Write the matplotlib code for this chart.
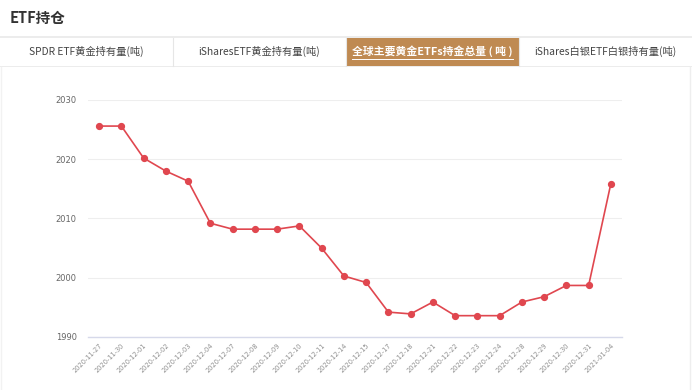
import matplotlib
matplotlib.use("Agg")
import matplotlib.pyplot as plt
from matplotlib.patches import Rectangle
from matplotlib.lines import Line2D

plt.rcParams['font.family'] = ['Noto Sans CJK SC', 'DejaVu Sans']

title = "ETF持仓"
tabs = ["SPDR ETF黄金持有量(吨)", "iSharesETF黄金持有量(吨)", "全球主要黄金ETFs持金总量 ( 吨 )", "iShares白银ETF白银持有量(吨)"]
active_tab = 2

dates = ["2020-11-27", "2020-11-30", "2020-12-01", "2020-12-02", "2020-12-03", "2020-12-04",
         "2020-12-07", "2020-12-08", "2020-12-09", "2020-12-10", "2020-12-11", "2020-12-14",
         "2020-12-15", "2020-12-17", "2020-12-18", "2020-12-21", "2020-12-22", "2020-12-23",
         "2020-12-24", "2020-12-28", "2020-12-29", "2020-12-30", "2020-12-31", "2021-01-04"]
holdings = [2025.6, 2025.6, 2020.2, 2018.0, 2016.3, 2009.2,
            2008.2, 2008.2, 2008.2, 2008.75, 2005.0, 2000.3,
            1999.2, 1994.2, 1993.9, 1995.9, 1993.6, 1993.6,
            1993.6, 1995.9, 1996.8, 1998.7, 1998.7, 2015.9]
yticks = [1990, 2000, 2010, 2020, 2030]

W, H = 692, 390
fig = plt.figure(figsize=(W / 100, H / 100), dpi=100)
fig.patch.set_facecolor("white")

# overlay in pixel coords for the header
ov = fig.add_axes([0, 0, 1, 1], zorder=0)
ov.set_xlim(0, W)
ov.set_ylim(H, 0)
ov.axis("off")

ov.text(10, 18, title, fontsize=10.5, fontweight="bold", color="#333333", va="center", ha="left")

# tab bar
ov.add_patch(Rectangle((0, 35.5), W, 2.5, color="#ececec", lw=0))
ov.add_patch(Rectangle((0, 65.5), W, 1.5, color="#ececec", lw=0))
tab_w = W / 4
for i, t in enumerate(tabs):
    x0 = i * tab_w
    cx = x0 + tab_w / 2
    if i == active_tab:
        ov.add_patch(Rectangle((x0, 38), tab_w, 27.5, color="#bf8a52", lw=0))
        txt = ov.text(cx, 51.5, t, fontsize=7.8, fontweight="bold", color="white", ha="center", va="center")
        fig.canvas.draw()
        bb = txt.get_window_extent()
        x_left, x_right = bb.x0, bb.x1
        ov.add_line(Line2D([x_left, x_right], [58.8, 58.8], color="white", lw=0.7))
    else:
        ov.text(cx, 51.5, t, fontsize=7.4, color="#444444", ha="center", va="center")
    if 0 < i:
        ov.add_line(Line2D([x0, x0], [38, 65.5], color="#e6e6e6", lw=0.8))
# container borders
ov.add_line(Line2D([690, 690], [67, H], color="#eeeeee", lw=1))
ov.add_line(Line2D([0.5, 0.5], [67, H], color="#f2f2f2", lw=1))

# chart axes
left, right, top, bottom = 88, 622, 100, 337
ax = fig.add_axes([left / W, (H - bottom) / H, (right - left) / W, (bottom - top) / H], zorder=1)
ax.patch.set_alpha(0)
x = list(range(len(dates)))
ax.plot(x, holdings, color="#e0474f", lw=1.2, marker="o", markersize=4.2, zorder=3)
ax.set_xlim(-0.5, len(dates) - 0.5)
ax.set_ylim(yticks[0], yticks[-1])
ax.set_yticks(yticks)
ax.set_yticklabels([str(v) for v in yticks], fontsize=6, color="#666666", family="DejaVu Sans")
ax.set_xticks(x)
ax.set_xticklabels(dates, rotation=45, ha="right", va="top", rotation_mode="anchor",
                   fontsize=4.8, color="#8f8f8f", family="DejaVu Sans")
ax.tick_params(axis="both", length=0)
ax.tick_params(axis="y", pad=8)
ax.tick_params(axis="x", pad=4)
ax.grid(axis="y", color="#eeeeee", lw=0.8)
ax.set_axisbelow(True)
for s in ["top", "right", "left"]:
    ax.spines[s].set_visible(False)
ax.spines["bottom"].set_color("#d6d9ea")
ax.spines["bottom"].set_linewidth(1)

fig.savefig("out.png", dpi=100, facecolor="white")
